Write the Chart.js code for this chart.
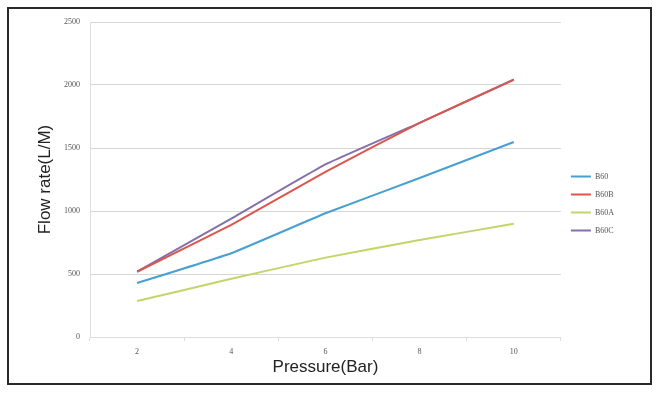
<!DOCTYPE html>
<html>
<head>
<meta charset="utf-8">
<script src="https://cdn.jsdelivr.net/npm/chart.js@4"></script>
<style>
  body { margin: 0; background: #fff; }
  #wrap { position: relative; width: 659px; height: 395px; }
  #frame { position: absolute; left: 7px; top: 7px; width: 645px; height: 378px;
           box-sizing: border-box; border: 2px solid #2a2a2a; pointer-events: none; }
  canvas { position: absolute; left: 0; top: 0; }
</style>
</head>
<body>
<div id="wrap">
  <canvas id="chart" width="659" height="395"></canvas>
  <div id="frame"></div>
</div>
<script>
// pressure categories (Bar)
var pressures = ["2", "4", "6", "8", "10"];

// flow rate series (L/M)
var b60  = [428, 665, 982, 1262, 1548];
var b60b = [518, 890, 1310, 1700, 2040];
var b60a = [285, 462, 630, 770, 898];
var b60c = [518, 940, 1370, 1700, 2045];

var yTicks = [0, 500, 1000, 1500, 2000, 2500];

function line(label, data, color){
    return {
        label: label,
        data: data,
        borderColor: color,
        backgroundColor: color,
        borderWidth: 2,
        pointRadius: 0,
        tension: 0.1,
        fill: false
    };
}

new Chart(document.getElementById("chart"), {
    type: "line",
    data: {
        labels: pressures,
        datasets: [
            line("B60", b60, "#47a0d0"),
            line("B60B", b60b, "#d9574f"),
            line("B60A", b60a, "#c2d569"),
            line("B60C", b60c, "#8571aa")
        ]
    },
    options: {
        responsive: false,
        animation: false,
        layout: { padding: { left: 8, right: 35, top: 22, bottom: 10 } },
        plugins: {
            tooltip: { enabled: false },
            legend: {
                position: "right",
                labels: {
                    boxWidth: 20,
                    boxHeight: 0,
                    padding: 10,
                    color: "#555",
                    font: { family: "Liberation Serif", size: 8 }
                }
            }
        },
        scales: {
            x: {
                offset: true,
                afterFit: function(s){ s.height = 48; },
                grid: { offset: true, drawOnChartArea: false, drawTicks: true, tickLength: 4, color: "#ddd" },
                border: { display: true, color: "#ddd" },
                ticks: { color: "#555", padding: 6, font: { family: "Liberation Serif", size: 8 } },
                title: {
                    display: true,
                    text: "Pressure(Bar)",
                    color: "#222",
                    padding: { top: 0, bottom: 7 },
                    font: { family: "Liberation Sans", size: 17 }
                }
            },
            y: {
                min: 0,
                max: 2500,
                afterFit: function(s){ s.width = 82; },
                afterBuildTicks: function(s){ s.ticks = yTicks.map(function(v){ return { value: v }; }); },
                grid: { color: "#d6d6d6", drawTicks: false },
                border: { display: true, color: "#ddd" },
                ticks: {
                    color: "#555",
                    padding: 10,
                    font: { family: "Liberation Serif", size: 8 },
                    callback: function(v){ return String(v); }
                },
                title: {
                    display: true,
                    text: "Flow rate(L/M)",
                    color: "#222",
                    padding: { top: 27, bottom: 0 },
                    font: { family: "Liberation Sans", size: 17 }
                }
            }
        }
    }
});
</script>
</body>
</html>
